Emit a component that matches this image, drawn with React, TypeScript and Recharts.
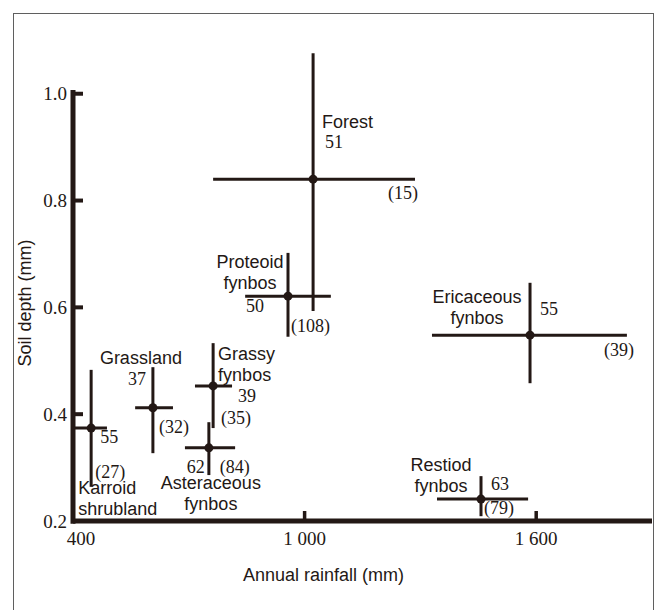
import React from "react";
import { ScatterChart, Scatter, XAxis, YAxis, ErrorBar, ReferenceLine, Label } from "recharts";

const INK = "#231815";
const SANS = "'Liberation Sans', Arial, sans-serif";
const SERIF = "'Liberation Serif', 'Times New Roman', serif";

// vegetation types (two-word names are drawn on two lines)
const vegetationTypes = [
  "Karroid shrubland",
  "Grassland",
  "Asteraceous fynbos",
  "Grassy fynbos",
  "Proteoid fynbos",
  "Forest",
  "Ericaceous fynbos",
  "Restiod fynbos",
];

// annual rainfall (mm): mean and range
const rainfallMean = [447, 607, 752, 763, 957, 1022, 1584, 1457];
const rainfallLow = [400, 561, 690, 716, 846, 763, 1330, 1343];
const rainfallHigh = [488, 659, 820, 812, 1068, 1286, 1835, 1579];

// soil depth (mm): mean and range
const soilMean = [0.374, 0.412, 0.337, 0.453, 0.621, 0.84, 0.548, 0.241];
const soilLow = [0.264, 0.327, 0.286, 0.374, 0.545, 0.593, 0.458, 0.209];
const soilHigh = [0.483, 0.488, 0.385, 0.533, 0.702, 1.076, 0.646, 0.284];

// numbers printed next to each point
const siteCounts = [55, 37, 62, 39, 50, 51, 55, 63];
const bracketCounts = [27, 32, 84, 35, 108, 15, 39, 79];

const xTicks = [400, 1000, 1600];
const yTicks = [0.2, 0.4, 0.6, 0.8, 1.0];

const data = vegetationTypes.map((name, i) => ({
  name,
  rainfall: rainfallMean[i],
  soil: soilMean[i],
  xErr: [rainfallMean[i] - rainfallLow[i], rainfallHigh[i] - rainfallMean[i]],
  yErr: [soilMean[i] - soilLow[i], soilHigh[i] - soilMean[i]],
  count: siteCounts[i],
  bracket: bracketCounts[i],
}));

// label offsets from each point: [dx, dy, anchor]
type Pos = [number, number, "start" | "middle" | "end"];
const labelLayout: Record<string, { name: Pos; count: Pos; bracket: Pos }> = {
  "Karroid shrubland": { name: [-13, 66, "start"], count: [9, 15, "start"], bracket: [4, 50, "start"] },
  Grassland: { name: [-12, -44, "middle"], count: [-25, -23, "start"], bracket: [6, 25, "start"] },
  "Asteraceous fynbos": { name: [2, 41, "middle"], count: [-22, 25, "start"], bracket: [11, 25, "start"] },
  "Grassy fynbos": { name: [5, -26, "start"], count: [25, 16, "start"], bracket: [8, 38, "start"] },
  "Proteoid fynbos": { name: [-38, -28, "middle"], count: [-42, 16, "start"], bracket: [3, 36, "start"] },
  Forest: { name: [9, -51, "start"], count: [12, -31, "start"], bracket: [75, 20, "start"] },
  "Ericaceous fynbos": { name: [-53, -32, "middle"], count: [10, -20, "start"], bracket: [74, 21, "start"] },
  "Restiod fynbos": { name: [-40, -28, "middle"], count: [10, -9, "start"], bracket: [3, 15, "start"] },
};

const PointWithLabels = (props: any) => {
  const { cx, cy, payload } = props;
  const lay = labelLayout[payload.name];
  const lines = payload.name.split(" ");
  return (
    <g>
      <circle cx={cx} cy={cy} r={4.5} fill={INK} />
      {lines.map((line: string, i: number) => (
        <text
          key={i}
          x={cx + lay.name[0]}
          y={cy + lay.name[1] + i * 21}
          textAnchor={lay.name[2]}
          fontFamily={SANS}
          fontSize={18}
          fill={INK}
        >
          {line}
        </text>
      ))}
      <text x={cx + lay.count[0]} y={cy + lay.count[1]} textAnchor={lay.count[2]} fontFamily={SERIF} fontSize={18} fill={INK}>
        {payload.count}
      </text>
      <text x={cx + lay.bracket[0]} y={cy + lay.bracket[1]} textAnchor={lay.bracket[2]} fontFamily={SERIF} fontSize={18} fill={INK}>
        ({payload.bracket})
      </text>
    </g>
  );
};

const formatThousands = (v: number) => (v >= 1000 ? `${Math.floor(v / 1000)} ${String(v % 1000).padStart(3, "0")}` : String(v));

const XTick = (props: any) => {
  const { x, y, payload, index } = props;
  return (
    <text x={x + (index === 0 ? 8 : 0)} y={y} textAnchor="middle" fontFamily={SERIF} fontSize={19} fill={INK}>
      {formatThousands(payload.value)}
    </text>
  );
};

const YTick = (props: any) => {
  const { x, y, payload } = props;
  return (
    <text x={x} y={y} dy={6.5} textAnchor="end" fontFamily={SERIF} fontSize={19} fill={INK}>
      {payload.value.toFixed(1)}
    </text>
  );
};

export default function App() {
  return (
    <div style={{ position: "absolute", left: 0, top: 0, width: 656, height: 610, overflow: "hidden", background: "#fff" }}>
      <div
        style={{
          position: "absolute",
          left: 13,
          top: 13,
          width: 641,
          height: 640,
          border: "1.5px solid #5f5f5f",
          boxSizing: "border-box",
        }}
      />
      <div style={{ position: "absolute", left: 0, top: 0 }}>
        <ScatterChart width={656} height={610} margin={{ top: 51, right: 4, bottom: 28, left: 13 }}>
          <XAxis
            type="number"
            dataKey="rainfall"
            domain={[400, 1900]}
            allowDataOverflow
            ticks={xTicks}
            tick={<XTick />}
            tickSize={-10}
            tickMargin={34}
            tickLine={{ stroke: INK, strokeWidth: 3.5 }}
            axisLine={{ stroke: INK, strokeWidth: 5 }}
            height={61}
          >
            <Label
              content={(p: any) => {
                const vb = p.viewBox;
                return (
                  <text x={vb.x + vb.width / 2 - 39} y={vb.y + 60} textAnchor="middle" fontFamily={SANS} fontSize={18} fill={INK}>
                    Annual rainfall (mm)
                  </text>
                );
              }}
            />
          </XAxis>
          <YAxis
            type="number"
            dataKey="soil"
            domain={[0.2, 1.08]}
            allowDataOverflow
            ticks={yTicks}
            tick={<YTick />}
            tickSize={-10}
            tickMargin={16}
            tickLine={{ stroke: INK, strokeWidth: 4 }}
            axisLine={false}
            width={60}
          >
            <Label
              content={(p: any) => {
                const vb = p.viewBox;
                const lx = vb.x + 18;
                const ly = vb.y + vb.height / 2 + 17;
                return (
                  <text
                    x={lx}
                    y={ly}
                    transform={`rotate(-90 ${lx} ${ly})`}
                    textAnchor="middle"
                    fontFamily={SANS}
                    fontSize={18}
                    fill={INK}
                  >
                    Soil depth (mm)
                  </text>
                );
              }}
            />
          </YAxis>
          <ReferenceLine
            segment={[
              { x: 400, y: 0.195 },
              { x: 400, y: 1.007 },
            ]}
            ifOverflow="visible"
            stroke={INK}
            strokeWidth={5}
          />
          <Scatter data={data} shape={<PointWithLabels />} isAnimationActive={false}>
            <ErrorBar dataKey="xErr" direction="x" width={0} stroke={INK} strokeWidth={3} isAnimationActive={false} />
            <ErrorBar dataKey="yErr" direction="y" width={0} stroke={INK} strokeWidth={3} isAnimationActive={false} />
          </Scatter>
        </ScatterChart>
      </div>
    </div>
  );
}
